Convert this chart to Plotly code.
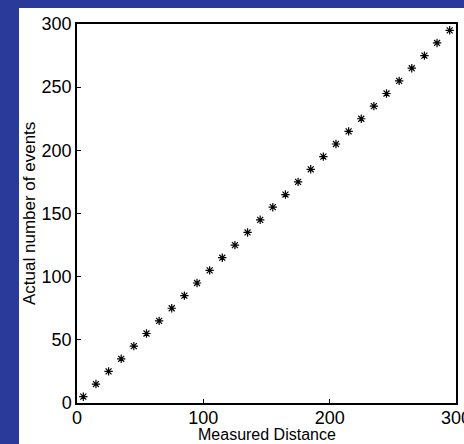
import plotly.graph_objects as go

measured_distance = [5, 15, 25, 35, 45, 55, 65, 75, 85, 95,
                     105, 115, 125, 135, 145, 155, 165, 175, 185, 195,
                     205, 215, 225, 235, 245, 255, 265, 275, 285, 295]
actual_events = [5, 15, 25, 35, 45, 55, 65, 75, 85, 95,
                 105, 115, 125, 135, 145, 155, 165, 175, 185, 195,
                 205, 215, 225, 235, 245, 255, 265, 275, 285, 295]
x_ticks = [0, 100, 200, 300]
y_ticks = [0, 50, 100, 150, 200, 250, 300]

BLUE = "#2a3a9b"
FONT = "Liberation Sans, Arial, sans-serif"

fig = go.Figure()
fig.add_trace(go.Scatter(
    x=measured_distance, y=actual_events, mode="markers",
    marker=dict(symbol="asterisk-open", size=7, color="black",
                line=dict(color="black", width=1.2)),
    showlegend=False, cliponaxis=False,
))

W, H = 464, 444
L, R, T, B = 77, 8, 24, 41
pw, ph = W - L - R, H - T - B

fig.add_shape(type="rect", xref="paper", yref="paper", layer="below",
              x0=(19 - L) / pw, x1=(W + 5 - L) / pw,
              y0=-(B + 5) / ph, y1=(H - B - 8) / ph,
              fillcolor="white", line=dict(width=0))

axis_common = dict(showgrid=False, zeroline=False, showline=True,
                   linecolor="black", linewidth=1.5, mirror=True,
                   ticks="inside", ticklen=4, tickwidth=1, tickcolor="black",
                   automargin=False, ticklabeloverflow="allow",
                   tickfont=dict(family=FONT, size=18, color="black"))

fig.update_xaxes(range=[0, 300], tickvals=x_ticks, ticklabelstandoff=-2,
                 **axis_common)
fig.update_yaxes(range=[0, 300], tickvals=y_ticks, **axis_common)

fig.add_annotation(text="Measured Distance", xref="paper", yref="paper",
                   x=0.5, y=(403 - 434) / ph, xanchor="center", yanchor="middle",
                   showarrow=False, font=dict(family=FONT, size=16, color="black"))
fig.add_annotation(text="Actual number of events", xref="paper", yref="paper",
                   x=(29.5 - L) / pw, y=0.5, xanchor="center", yanchor="middle",
                   textangle=-90, showarrow=False,
                   font=dict(family=FONT, size=17, color="black"))

fig.update_layout(width=W, height=H,
                  margin=dict(l=L, r=R, t=T, b=B, pad=0),
                  paper_bgcolor=BLUE, plot_bgcolor="white",
                  font=dict(family=FONT))

fig.write_html("out.html",
               config={"displayModeBar": False},
               post_script="document.body.style.margin='0';"
                           "document.body.style.padding='0';"
                           "document.body.style.overflow='hidden';")
